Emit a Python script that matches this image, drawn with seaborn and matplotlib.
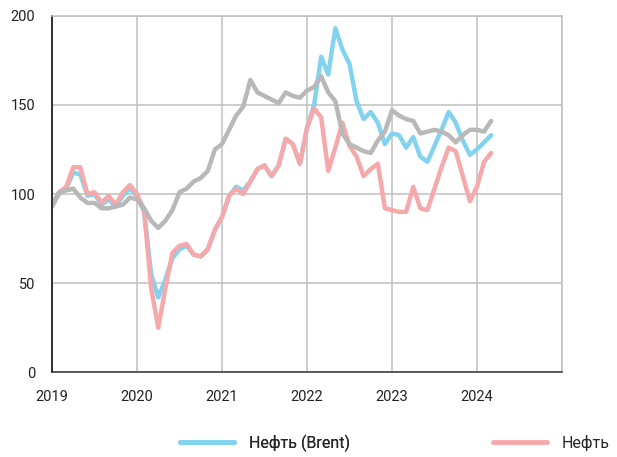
import numpy as np
import pandas as pd
import seaborn as sns
import matplotlib.pyplot as plt
from matplotlib.lines import Line2D

# Monthly values, Jan 2019 - Mar 2024
months = pd.date_range('2019-01-01', '2024-03-01', freq='MS')

brent = [93, 100, 103, 112, 111, 99, 100, 94, 97, 93, 99, 103,
         99, 90, 55, 42, 52, 64, 69, 71, 66, 65, 69, 80,
         87, 99, 104, 102, 107, 114, 116, 110, 116, 131, 128, 117,
         137, 150, 177, 167, 193, 181, 173, 152, 142, 146, 140, 128,
         134, 133, 126, 132, 121, 118, 127, 136, 146, 140, 130, 122,
         125, 129, 133]

oil = [93, 101, 104, 115, 115, 100, 101, 95, 99, 94, 101, 105,
       100, 91, 47, 25, 47, 67, 71, 72, 66, 65, 69, 80,
       87, 99, 103, 100, 107, 114, 116, 110, 116, 131, 128, 117,
       137, 148, 143, 113, 126, 140, 127, 121, 110, 114, 117, 92,
       91, 90, 90, 104, 92, 91, 103, 115, 126, 124, 110, 96,
       104, 118, 123]

grey_series = [94, 101, 102, 103, 98, 95, 95, 92, 92, 93, 94, 98,
               97, 92, 85, 81, 85, 91, 101, 103, 107, 109, 113, 125,
               128, 136, 144, 149, 164, 157, 155, 153, 151, 157, 155, 154,
               158, 160, 166, 157, 152, 134, 128, 126, 124, 123, 130, 135,
               147, 144, 142, 141, 134, 135, 136, 135, 133, 129, 133, 136,
               136, 135, 141]

year_ticks = [2019, 2020, 2021, 2022, 2023, 2024, 2025]
year_labels = ['2019', '2020', '2021', '2022', '2023', '2024', '']
y_ticks = [0, 50, 100, 150, 200]

# fractional year for each month
xpos = months.year + (months.month - 1) / 12.0
df = pd.DataFrame({'x': xpos, 'brent': brent, 'oil': oil, 'grey': grey_series})

sns.set_style('white')
plt.rcParams['font.family'] = ['Roboto', 'DejaVu Sans']

blue = '#82d3f0'
pink = '#f5a9ab'
grey = '#b8b8b8'
gridc = '#c0c0c0'

fig = plt.figure(figsize=(6.17, 4.57), dpi=100)
ax = fig.add_axes([0.0843, 0.1853, 0.9108 - 0.0843, 0.9656 - 0.1853])

sns.lineplot(data=df, x='x', y='brent', color=blue, linewidth=3.2, ax=ax,
             solid_capstyle='round')
sns.lineplot(data=df, x='x', y='oil', color=pink, linewidth=3.2, ax=ax,
             solid_capstyle='round')
sns.lineplot(data=df, x='x', y='grey', color=grey, linewidth=3.2, ax=ax,
             solid_capstyle='round')

ax.set_xlim(2019, 2025)
ax.set_ylim(0, 200)
ax.set_xticks(year_ticks)
ax.set_xticklabels(year_labels)
ax.set_yticks(y_ticks)
ax.set_xlabel('')
ax.set_ylabel('')

ax.grid(True, color=gridc, linewidth=1.1)
ax.set_axisbelow(True)
for side in ['top', 'right']:
    ax.spines[side].set_color(gridc)
    ax.spines[side].set_linewidth(1.1)
ax.spines['left'].set_color('#222222')
ax.spines['left'].set_linewidth(1.3)
ax.spines['bottom'].set_color('#333333')
ax.spines['bottom'].set_linewidth(1.1)
ax.tick_params(axis='both', direction='out', length=5, width=1,
               colors='#222222', labelsize=10.5)
ax.tick_params(axis='x', pad=8)
ax.tick_params(axis='y', pad=7)

# legend: two separately placed entries along the bottom
leg1 = fig.legend(handles=[Line2D([], [], color=blue, linewidth=3.5)],
                  labels=['Нефть (Brent)'], loc='center left',
                  bbox_to_anchor=(180 / 617, 1 - 443 / 457), frameon=False,
                  borderpad=0, borderaxespad=0, handlelength=3.4,
                  handletextpad=0.9, fontsize=11.5)
fig.add_artist(leg1)
fig.legend(handles=[Line2D([], [], color=pink, linewidth=3.5)],
           labels=['Нефть'], loc='center left',
           bbox_to_anchor=(493 / 617, 1 - 443 / 457), frameon=False,
           borderpad=0, borderaxespad=0, handlelength=3.4,
           handletextpad=0.9, fontsize=11.5)

plt.savefig('out.png', dpi=100)
